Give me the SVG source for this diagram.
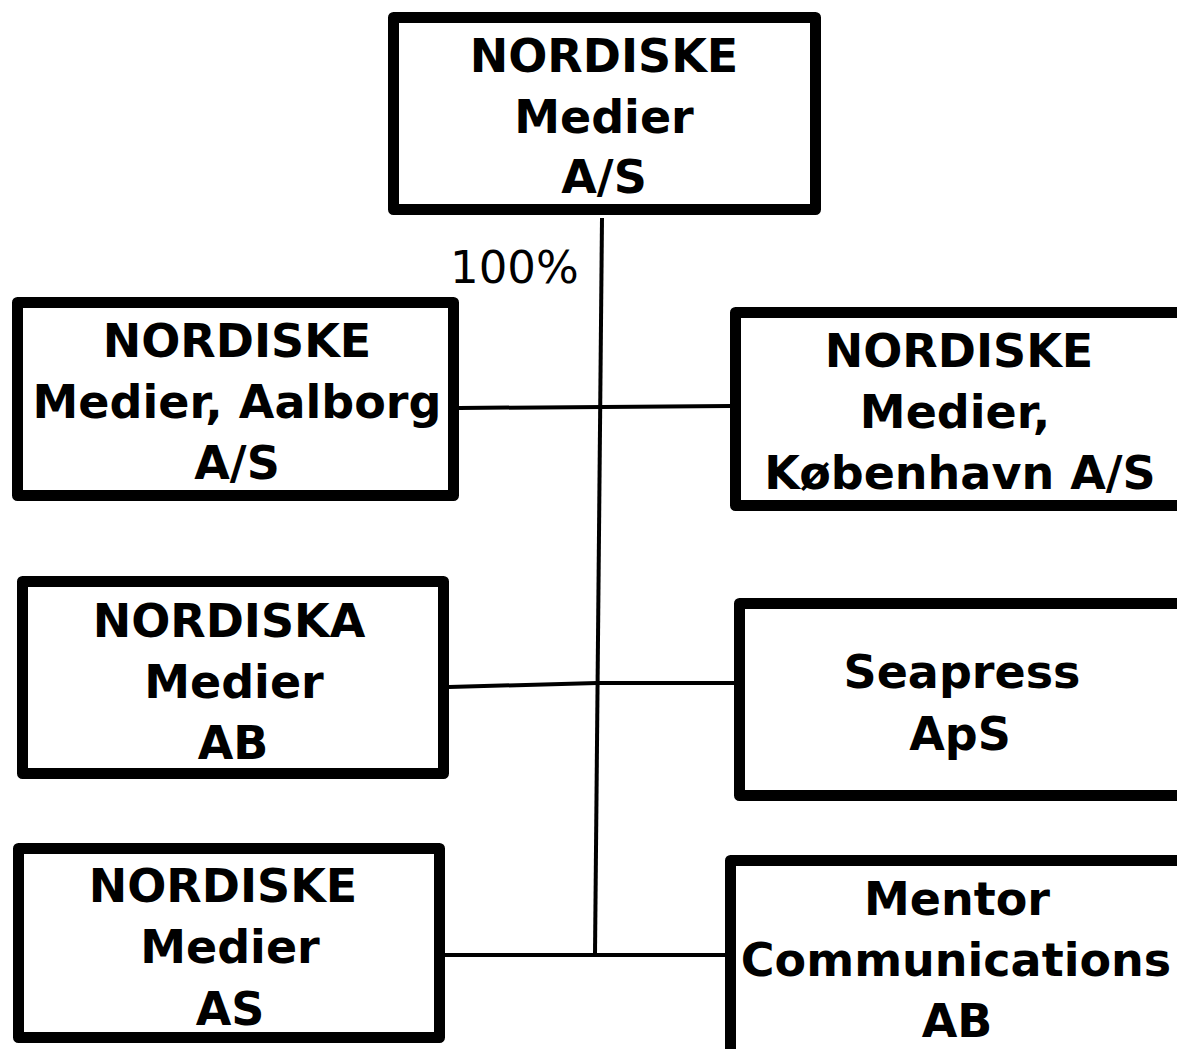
<svg xmlns="http://www.w3.org/2000/svg" width="1177" height="1049" viewBox="0 0 1177 1049">
<style>
.box{fill:#fff;stroke:#000;stroke-width:11;stroke-linejoin:round}
.t{font-family:"DejaVu Sans","Verdana",sans-serif;font-weight:bold;font-size:46px;text-anchor:middle;fill:#000}
.c{fill:none;stroke:#000;stroke-width:4}
.lbl{font-family:"DejaVu Sans","Verdana",sans-serif;font-size:45px;fill:#000}
</style>
<rect width="1177" height="1049" fill="#fff"/>
<g id="connectors">
<polyline class="c" points="602,218 595,955"/>
<polyline class="c" points="459,408 730,406"/>
<polyline class="c" points="449,687 597,683 734,683"/>
<polyline class="c" points="445,955 725,955"/>
</g>
<text class="lbl" x="450" y="283">100%</text>
<g id="n-top">
<rect class="box" x="393.5" y="17.5" width="422" height="192"/>
<text class="t" x="604" y="72">NORDISKE</text>
<text class="t" x="604" y="133">Medier</text>
<text class="t" x="604" y="193">A/S</text>
</g>
<g id="n-aalborg">
<rect class="box" x="17.5" y="302.5" width="436" height="193"/>
<text class="t" x="237" y="357">NORDISKE</text>
<text class="t" x="237" y="418">Medier, Aalborg</text>
<text class="t" x="237" y="479">A/S</text>
</g>
<g id="n-kobenhavn">
<rect class="box" x="735.5" y="312.5" width="447" height="193"/>
<text class="t" x="959" y="367">NORDISKE</text>
<text class="t" x="955" y="428">Medier,</text>
<text class="t" x="960" y="489">København A/S</text>
</g>
<g id="n-nordiska">
<rect class="box" x="22.5" y="581.5" width="421" height="192"/>
<text class="t" x="229" y="637">NORDISKA</text>
<text class="t" x="234" y="698">Medier</text>
<text class="t" x="233" y="759">AB</text>
</g>
<g id="n-seapress">
<rect class="box" x="739.5" y="603.5" width="443" height="192"/>
<text class="t" x="962" y="688">Seapress</text>
<text class="t" x="960" y="750">ApS</text>
</g>
<g id="n-nordiske-as">
<rect class="box" x="18.5" y="848.5" width="421" height="189"/>
<text class="t" x="223" y="902">NORDISKE</text>
<text class="t" x="230" y="963">Medier</text>
<text class="t" x="230" y="1025">AS</text>
</g>
<g id="n-mentor">
<rect class="box" x="730.5" y="860.5" width="452" height="194"/>
<text class="t" x="957" y="915">Mentor</text>
<text class="t" x="956" y="976">Communications</text>
<text class="t" x="957" y="1037">AB</text>
</g>
</svg>
